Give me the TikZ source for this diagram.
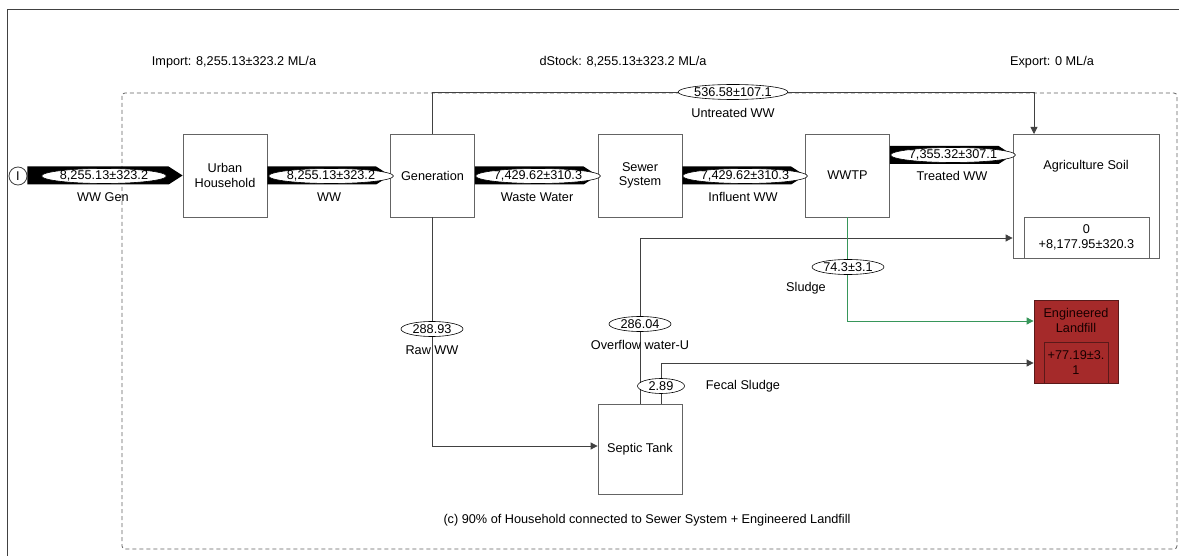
\documentclass[tikz,border=0pt]{standalone}
\usepackage{fontspec}
\setmainfont{Liberation Sans}
\usetikzlibrary{shapes.geometric,arrows.meta,calc}
\definecolor{boxgray}{RGB}{100,100,100}
\definecolor{linegray}{RGB}{65,65,65}
\definecolor{dashgray}{RGB}{95,95,95}
\definecolor{sludgegreen}{RGB}{55,150,90}
\definecolor{landfillred}{RGB}{165,42,42}
\definecolor{landfillborder}{RGB}{90,25,25}
\newcommand\dfont{\fontsize{12.7pt}{14.5pt}\selectfont}
\newcommand\thickflow[2]{\fill[black] let \p1=(#1), \p2=(#2) in (\x1,{\y2+9pt}) -- ({\x2-14pt},{\y2+9pt}) -- (\x2,\y2) -- ({\x2-14pt},{\y2-9pt}) -- (\x1,{\y2-9pt}) -- cycle;}
\tikzset{
  every node/.style={font=\dfont, text=black},
  procbox/.style={draw=boxgray, fill=white, line width=0.8pt, minimum width=84pt, minimum height=83pt, align=center, inner sep=0pt},
  inbox/.style={draw=boxgray, line width=0.8pt, align=center, inner sep=0pt},
  val/.style={ellipse, draw=black, fill=white, line width=0.6pt, inner sep=0pt, minimum height=15pt},
  conn/.style={draw=linegray, line width=0.8pt, -{Triangle[length=7pt,width=7pt]}},
  sludgeconn/.style={draw=sludgegreen, line width=0.9pt, -{Triangle[length=7pt,width=7pt,fill=sludgegreen]}},
  lbl/.style={inner sep=1pt}
}
\begin{document}
\begin{tikzpicture}[x=1pt,y=-1pt]
\useasboundingbox (0,0) rectangle (1179,556);
% outer frame
\draw[linegray, line width=0.9pt] (7,556) -- (7,9) -- (1179,9);
% system boundary
\draw[dashgray, line width=0.8pt, dash pattern=on 4pt off 3pt, rounded corners=3pt] (122,93) rectangle (1177,549);

% header labels
\node[lbl] (imp) at (234,62) {Import: 8,255.13±323.2 ML/a};
\node[lbl] (dst) at (623,62) {dStock: 8,255.13±323.2 ML/a};
\node[lbl] (exp) at (1052,62) {Export: 0 ML/a};

% processes
\node[circle, draw=linegray, fill=white, line width=0.8pt, minimum size=18pt, inner sep=0pt] (imp0) at (18,176) {I};
\node[procbox] (uh) at (225,175.5) {Urban\\Household};
\node[procbox] (gen) at (432.5,175.5) {Generation};
\node[procbox] (sew) at (640,175.5) {Sewer\\System};
\node[procbox] (wwtp) at (847.5,175.5) {WWTP};
\node[procbox, minimum width=146pt, minimum height=124pt] (agri) at (1086,196) {};
\node[lbl] (agrilbl) at (1086,166) {Agriculture Soil};
\node[inbox, minimum width=125pt, minimum height=41pt] (agristock) at (1086.5,237.5) {0\\+8,177.95±320.3};
\node[procbox, minimum height=90pt] (sept) at (640,449) {Septic Tank};
\node[draw=landfillborder, fill=landfillred, line width=0.8pt, minimum width=84pt, minimum height=83pt, inner sep=0pt] (lf) at (1076,341.5) {};
\node[lbl, align=center, text=black!90!red] (lflbl) at (1076,320.5) {Engineered\\Landfill};
\node[draw=landfillborder, line width=0.8pt, minimum width=64pt, minimum height=41pt, align=center, inner sep=0pt, text=black!90!red] (lfstock) at (1076,362.5) {+77.19±3.\\1};

% thin connectors
\coordinate (untop) at (1034,92);
\coordinate (agrin) at (1034,134);
\draw[conn] (gen.north) |- (untop) -- (agrin);
\draw[conn] (gen.south) |- ($(sept.west)+(0,-3)$);
\draw[conn] (sept.north) |- ($(agri.west)+(0,42)$);
\draw[conn] ($(sept.north)+(21,0)$) |- ($(lf.west)+(0,21.5)$);
\draw[sludgeconn] (wwtp.south) |- ($(lf.west)+(0,-20.5)$);

% thick flows
\thickflow{imp0.east}{uh.west}
\thickflow{uh.east}{gen.west}
\thickflow{gen.east}{sew.west}
\thickflow{sew.east}{wwtp.west}
\thickflow{$(wwtp.east)+(0,-20.5)$}{$(agri.west)+(0,-41)$}

% flow values
\node[val, minimum width=112pt] (v1) at (104,176) {8,255.13±323.2};
\node[val, minimum width=116pt] (v2) at (331,176) {8,255.13±323.2};
\node[val, minimum width=116pt] (v3) at (538,176) {7,429.62±310.3};
\node[val, minimum width=116pt] (v4) at (745,176) {7,429.62±310.3};
\node[val, minimum width=116pt] (v5) at (953,155) {7,355.32±307.1};
\node[val, minimum width=103pt] (v6) at (733,92) {536.58±107.1};
\node[val, minimum width=62pt] (v7) at (432,329) {288.93};
\node[val, minimum width=62pt] (v8) at (640,324) {286.04};
\node[val, minimum width=47pt] (v9) at (661,386) {2.89};
\node[val, minimum width=72pt] (v10) at (848,267) {74.3±3.1};

% flow names
\node[lbl] (n1) at (103,197) {WW Gen};
\node[lbl] (n2) at (329,197) {WW};
\node[lbl] (n3) at (537,197) {Waste Water};
\node[lbl] (n4) at (743,197) {Influent WW};
\node[lbl] (n5) at (952,176) {Treated WW};
\node[lbl] (n6) at (733,113) {Untreated WW};
\node[lbl] (n7) at (432,350) {Raw WW};
\node[lbl] (n8) at (640,345) {Overflow water-U};
\node[lbl] (n9) at (743,386) {Fecal Sludge};
\node[lbl] (n10) at (806,288) {Sludge};

% caption
\node[lbl] (cap) at (647,520) {(c) 90\% of Household connected to Sewer System + Engineered Landfill};
\end{tikzpicture}
\end{document}
